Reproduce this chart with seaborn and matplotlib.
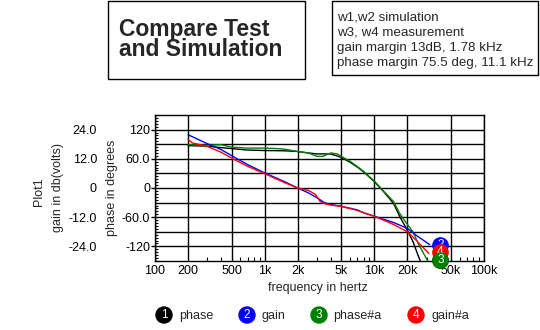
import numpy as np
import pandas as pd
import matplotlib
matplotlib.use("Agg")
import matplotlib.pyplot as plt
import seaborn as sns
from matplotlib.ticker import FixedLocator, FixedFormatter, NullFormatter, LogLocator
from matplotlib.patches import Rectangle, Circle

# ---------------- data ----------------
# w1: phase (simulation), degrees
phase_freq = [200, 300, 400, 500, 700, 1000, 1500, 2000, 2500, 3000, 3500, 4000,
              5000, 6000, 7000, 8000, 10000, 12000, 15000, 17000, 20000, 22500,
              25500, 26500]
phase_deg = [87, 86, 83, 81, 78, 77, 76.5, 75, 72, 70, 70, 70,
             63, 53, 43, 33, 13, -6, -32, -58, -87, -110, -143, -152]

# w3: phase#a (measurement), degrees
phasea_freq = [200, 250, 300, 400, 500, 700, 1000, 1300, 1500, 2000, 2500, 3000,
               3400, 4000, 4600, 5000, 6000, 7000, 8000, 10000, 12000, 15000,
               17000, 20000, 22500, 25500, 29500, 31000]
phasea_deg = [89, 88, 88, 89, 84, 82, 82, 81, 80, 75, 72, 65,
              65, 72, 70, 65, 55, 44, 34, 14, -5, -28,
              -52, -75, -90, -117, -143, -152]

# w2: gain (simulation), dB
gain_freq = [200, 300, 400, 500, 700, 1000, 1500, 2000, 2500, 3000, 3500, 4000,
             5000, 7000, 8000, 10000, 15000, 20000, 24000, 32000]
gain_db = [21.9, 18.2, 15.8, 13.3, 9.6, 6.2, 2.7, 0, -2, -4.0, -6.0, -6.8,
           -7.5, -9, -10.2, -11.6, -14.2, -16.6, -19.4, -23.3]

# w4: gain#a (measurement), dB
gaina_freq = [200, 220, 300, 400, 500, 700, 1000, 1500, 2000, 2500, 2900, 3200,
              3600, 4000, 5000, 7000, 8000, 10000, 15000, 20000, 24000, 31500]
gaina_db = [19.9, 18.5, 17.1, 14.7, 12.3, 8.9, 5.9, 2.3, 0, -1.0, -2.6, -5.5,
            -6.6, -7.0, -7.6, -9.2, -10.2, -11.6, -15, -18, -21.4, -27]

# numbered curve-tag markers
tag_freq = 40000
tag_phase = -147.6     # tags 1 and 3 (phase axis)
tag_gain = -23.6       # tag 2 (gain axis)
tag_gaina = -26.4      # tag 4 (gain axis)

x_ticks = [100, 200, 500, 1000, 2000, 5000, 10000, 20000, 50000, 100000]
x_labels = ["100", "200", "500", "1k", "2k", "5k", "10k", "20k", "50k", "100k"]
phase_ticks = [-120, -60, 0, 60, 120]
phase_labels = ["-120", "-60.0", "0", "60.0", "120"]
gain_ticks = [-24, -12, 0, 12, 24]
gain_labels = ["-24.0", "-12.0", "0", "12.0", "24.0"]

legend_names = ["phase", "gain", "phase#a", "gain#a"]
series_colors = ["#000000", "#0000ff", "#008000", "#ff0000"]

# ---------------- style ----------------
sns.set_style("white")
plt.rcParams["font.family"] = ["Liberation Sans", "DejaVu Sans"]
plt.rcParams["font.size"] = 9

W, H = 540, 330
fig = plt.figure(figsize=(W / 100, H / 100), dpi=100)
fig.patch.set_facecolor("white")

ax = fig.add_axes([155 / W, 1 - 261 / H, 329 / W, 146 / H])
ax2 = ax.twinx()

ax.set_xscale("log")
ax.set_xlim(100, 100000)
ax.set_ylim(-150, 150)
ax2.set_ylim(-30, 30)

# phase curves
sns.lineplot(x=phase_freq, y=phase_deg, ax=ax, color=series_colors[0],
             linewidth=1, estimator=None, sort=False, legend=False)
sns.lineplot(x=phasea_freq, y=phasea_deg, ax=ax, color=series_colors[2],
             linewidth=1, estimator=None, sort=False, legend=False)
# gain curves
sns.lineplot(x=gain_freq, y=gain_db, ax=ax2, color=series_colors[1],
             linewidth=1, estimator=None, sort=False, legend=False)
sns.lineplot(x=gaina_freq, y=gaina_db, ax=ax2, color=series_colors[3],
             linewidth=1, estimator=None, sort=False, legend=False)

ax.set_xscale("log")
ax.set_xlim(100, 100000)

# grid
ax.xaxis.set_major_locator(FixedLocator(x_ticks))
ax.xaxis.set_major_formatter(FixedFormatter(x_labels))
ax.xaxis.set_minor_locator(LogLocator(base=10, subs=np.arange(2, 10)))
ax.xaxis.set_minor_formatter(NullFormatter())
ax.yaxis.set_major_locator(FixedLocator(phase_ticks))
ax.yaxis.set_major_formatter(FixedFormatter(phase_labels))
ax.yaxis.set_minor_locator(FixedLocator(np.arange(-150, 151, 6)))
ax.grid(True, which="major", color="black", linewidth=1)
for v in (-90, -30, 30, 90):
    ax.axhline(v, color="black", linewidth=1, zorder=0.5)
ax.set_axisbelow(True)

ax.tick_params(axis="x", which="major", length=0, pad=3, labelsize=9,
               colors="black", bottom=True, top=False)
ax.tick_params(axis="x", which="minor", length=3, width=0.8, direction="in",
               bottom=True, top=False, colors="black")
ax.tick_params(axis="y", which="major", length=3, width=1, direction="out",
               pad=0.6, labelsize=9, left=True, right=False, colors="black")
ax.tick_params(axis="y", which="minor", length=2.5, width=0.8,
               direction="in", left=True, right=False, colors="black")
for s in ax.spines.values():
    s.set_color("black")
    s.set_linewidth(1)

ax2.yaxis.set_ticks_position("left")
ax2.yaxis.set_label_position("left")
ax2.spines["left"].set_position(("outward", 39.8))
for s in ax2.spines.values():
    s.set_visible(False)
ax2.set_yticks(gain_ticks)
ax2.set_yticklabels(gain_labels)
ax2.tick_params(axis="y", length=0, pad=2, labelsize=9, colors="black")
ax2.set_ylabel("")
ax.set_xlabel("")
ax.set_ylabel("")

# numbered tags at curve ends
tags = [
    (tag_freq, tag_phase, ax.transData, series_colors[0], "1"),
    (tag_freq, tag_gain, ax2.transData, series_colors[1], "2"),
    (tag_freq, tag_gaina, ax2.transData, series_colors[3], "4"),
    (tag_freq, tag_phase, ax.transData, series_colors[2], "3"),
]
for i, (f, v, tr, c, n) in enumerate(tags):
    ax2.plot([f], [v], marker="o", markersize=11, color=c, transform=tr,
             clip_on=False, zorder=10 + i)
    ax2.text(f, v, n, transform=tr, color="white", ha="center", va="center",
             fontsize=8.5, clip_on=False, zorder=10 + i)

# ---------------- decorations (pixel coordinates) ----------------
deco = fig.add_axes([0, 0, 1, 1])
deco.set_xlim(0, W)
deco.set_ylim(H, 0)
deco.axis("off")

deco.add_patch(Rectangle((108, 0.5), 197, 78.5, fill=False, edgecolor="black", lw=1))
deco.text(119, 36, "Compare Test", fontsize=16.5, fontweight="bold", va="baseline")
deco.text(119, 56, "and Simulation", fontsize=16.5, fontweight="bold", va="baseline")

deco.add_patch(Rectangle((332, 0.5), 206, 74.5, fill=False, edgecolor="black", lw=1))
info = ["w1,w2 simulation", "w3, w4 measurement",
        "gain margin 13dB, 1.78 kHz", "phase margin 75.5 deg, 11.1 kHz"]
for i, line in enumerate(info):
    deco.text(337, 20 + 15.3 * i, line, fontsize=9.6, va="baseline")

deco.text(39, 192, "Plot1", rotation=90, ha="center", va="center", fontsize=9)
deco.text(57.5, 187, "gain in db(volts)", rotation=90, ha="center", va="center", fontsize=9)
deco.text(112, 187.5, "phase in degrees", rotation=90, ha="center", va="center", fontsize=9)
deco.text(318, 288, "frequency in hertz", ha="center", va="center", fontsize=9)

leg_x = [164, 247, 319, 416]
leg_txt_x = [179, 262, 333, 432]
leg_colors = [series_colors[0], series_colors[1], series_colors[2], series_colors[3]]
for i in range(4):
    deco.add_patch(Circle((leg_x[i], 315), 8, color=leg_colors[i]))
    deco.text(leg_x[i], 315.5, str(i + 1), color="white", ha="center", va="center", fontsize=8.5)
    deco.text(leg_txt_x[i], 315.5, legend_names[i], ha="left", va="center", fontsize=9)

fig.savefig("out.png", dpi=100, facecolor="white")
